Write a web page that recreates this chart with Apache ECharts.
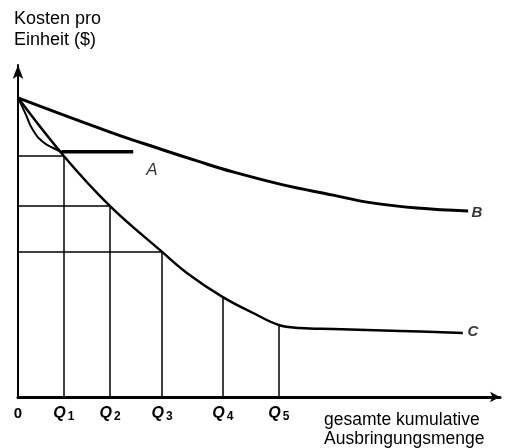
<!DOCTYPE html>
<html>
<head>
    <meta charset="utf-8">
    <title>Erfahrungskurven</title>
    <script src="https://cdn.jsdelivr.net/npm/echarts@6/dist/echarts.min.js"></script>
</head>
<body style="margin:0;background:#fff">
<div id="main" style="width:509px;height:448px;"></div>
<script type="text/javascript">
    // quantity positions on the x axis (0..100) and their labels
    var qPos = [9.5, 19.1, 29.9, 42.5, 54.1]
    var qNames = ['1', '2', '3', '4', '5']
    // cost level of curve C at each Q (where the guide lines end)
    var qCost = [72.6, 57.5, 43.7, 30.1, 21.7]
    // how many horizontal guides go back to the cost axis
    var hGuides = 3

    // curve B
    var bX = [0, 19.1, 29.5, 37.8, 44.6, 55.0, 65.4, 72.4, 82.8, 93.4]
    var bY = [90.1, 79.8, 74.7, 70.8, 67.8, 63.9, 60.8, 58.7, 56.9, 56.0]
    // curve C
    var cX = [0, 9.5, 19.1, 29.9, 35.1, 42.5, 48.8, 54.1, 58.5, 65.4, 79.3, 92.3]
    var cY = [90.1, 72.6, 57.5, 43.7, 37.3, 30.1, 25.3, 21.7, 20.8, 20.5, 19.9, 19.3]
    // curve A: bend then flat part
    var aX = [0, 1.5, 3.1, 5.2, 7.3, 9.1]
    var aY = [90.1, 85.5, 80.4, 76.8, 75.0, 73.8]
    var aFlatX = [9.1, 23.9]
    var aFlatY = [73.9, 73.9]

    // curve letters
    var letters = [
        {name: 'A', value: [27.8, 68.4], label: {fontSize: 17, fontWeight: 'normal'}},
        {name: 'B', value: [95.2, 55.6]},
        {name: 'C', value: [94.4, 19.6]}
    ]

    function zip(xs, ys) {
        return xs.map(function (x, i) { return [x, ys[i]] })
    }

    var guides = []
    qPos.forEach(function (q, i) {
        guides.push([{coord: [q, 0]}, {coord: [q, qCost[i]]}])
        if (i < hGuides) guides.push([{coord: [0, qCost[i]]}, {coord: [q, qCost[i]]}])
    })

    var font = '"Liberation Sans", Arial, sans-serif'
    var myChart = echarts.init(document.getElementById('main'))
    var option = {
        animation: false,
        backgroundColor: '#fff',
        grid: {left: 18, right: 9, top: 65, bottom: 51},
        xAxis: {
            type: 'value', min: 0, max: 100,
            splitLine: {show: false},
            axisTick: {show: false},
            axisLine: {
                lineStyle: {color: '#000', width: 3},
                symbol: ['none', 'arrow'], symbolSize: [8, 10]
            },
            axisLabel: {
                customValues: [0].concat(qPos),
                margin: 7,
                formatter: function (v) {
                    var i = qPos.indexOf(v)
                    if (i < 0) return '{z|0}'
                    return '{q|Q}{s|' + qNames[i] + '}'
                },
                rich: {
                    z: {fontSize: 15, fontWeight: 'bold', color: '#000', fontFamily: font, padding: [2, 0, 0, 0]},
                    q: {fontSize: 16, fontWeight: 'bold', fontStyle: 'italic', color: '#000', fontFamily: font},
                    s: {fontSize: 12, fontWeight: 'bold', color: '#000', fontFamily: font, padding: [7, 0, 0, 2]}
                }
            }
        },
        yAxis: {
            type: 'value', min: 0, max: 100,
            splitLine: {show: false},
            axisTick: {show: false},
            axisLabel: {show: false},
            axisLine: {
                lineStyle: {color: '#000', width: 2},
                symbol: ['none', 'arrow'], symbolSize: [8, 14]
            }
        },
        series: [
            {
                type: 'line', name: 'B', data: zip(bX, bY), smooth: 0.4,
                showSymbol: false, lineStyle: {color: '#000', width: 3}
            },
            {
                type: 'line', name: 'C', data: zip(cX, cY), smooth: 0.4,
                showSymbol: false, lineStyle: {color: '#000', width: 2.5},
                markLine: {
                    silent: true, symbol: 'none', label: {show: false},
                    lineStyle: {color: '#000', width: 1.5, type: 'solid'},
                    data: guides
                }
            },
            {
                type: 'line', name: 'A', data: zip(aX, aY), smooth: 0.5,
                showSymbol: false, lineStyle: {color: '#000', width: 2}
            },
            {
                type: 'line', name: 'A2', data: zip(aFlatX, aFlatY),
                showSymbol: false, lineStyle: {color: '#000', width: 3.5}
            },
            {
                type: 'scatter', data: letters, symbolSize: 0,
                label: {
                    show: true, position: 'inside', formatter: '{b}',
                    color: '#000', fontSize: 15, fontStyle: 'italic', fontWeight: 'bold', fontFamily: font
                }
            }
        ],
        graphic: [
            {
                type: 'text', left: 14, top: 9,
                style: {text: 'Kosten pro\nEinheit ($)', font: '18px ' + font, fill: '#000', lineHeight: 21}
            },
            {
                type: 'text', left: 324, top: 411,
                style: {text: 'gesamte kumulative\nAusbringungsmenge', font: '17.5px ' + font, fill: '#000', lineHeight: 19}
            }
        ]
    }
    myChart.setOption(option)
</script>
</body>
</html>
